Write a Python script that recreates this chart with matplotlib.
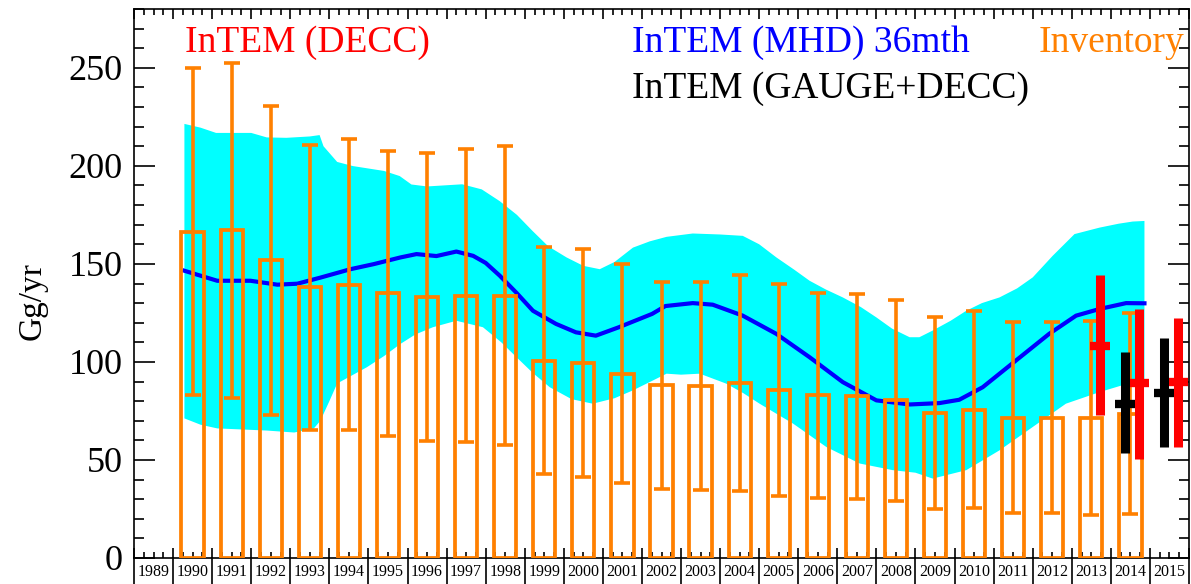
import numpy as np
import matplotlib
matplotlib.use("Agg")
import matplotlib.pyplot as plt
from matplotlib.ticker import MultipleLocator
import matplotlib.transforms as mtransforms

plt.rcParams['font.family'] = ['Liberation Serif', 'DejaVu Serif']

# inventory (one box per year) : value and +- uncertainty
inv_years = np.arange(1990, 2015)
inv_val = [166.5, 167.2, 151.9, 138.0, 139.4, 134.9, 133.3, 133.8, 133.8, 100.7,
           99.3, 94.0, 88.0, 87.6, 89.4, 85.8, 82.9, 82.4, 80.4, 74.1,
           75.6, 71.6, 71.6, 71.6, 73.6]
inv_err = [83.5, 85.5, 78.8, 72.8, 74.2, 72.8, 73.5, 74.8, 76.2, 57.8,
           58.2, 56.0, 53.0, 53.0, 55.1, 54.0, 52.2, 52.2, 51.3, 49.0,
           50.2, 48.9, 48.9, 49.5, 51.2]

# InTEM (MHD) 36 month : central line and uncertainty band
mhd_t = [1990.29, 1990.7, 1991.13, 1991.98, 1992.67, 1993.18, 1993.77, 1994.54,
         1995.14, 1995.82, 1996.23, 1996.74, 1997.25, 1997.68, 1998.0, 1998.36,
         1998.8, 1999.21, 1999.8, 2000.31, 2000.82, 2001.41, 2002.26, 2002.6,
         2003.3, 2003.81, 2004.58, 2005.44, 2006.29, 2007.14, 2008.0, 2008.85,
         2009.61, 2010.12, 2010.72, 2011.57, 2012.42, 2013.11, 2013.71, 2014.39,
         2014.86]
mhd_val = [146.5, 144, 141.4, 141.4, 139.4, 139.9, 143, 147.3,
           149.9, 153.3, 155, 154, 156.3, 154.1, 150.5, 144,
           135, 126.1, 119.4, 115.1, 113.4, 117.7, 124.5, 128.5,
           130, 129.2, 123.6, 114.3, 102.4, 89.7, 80.4, 78.3,
           79, 80.7, 87.1, 100.7, 114.3, 123.6, 127, 130,
           129.9]

up_t = [1990.29, 1990.7, 1991.1, 1992.0, 1992.4, 1992.9, 1993.5, 1993.75, 1993.85,
        1994.2, 1994.6, 1995.4, 1995.8, 1996.1, 1996.5, 1997.4, 1997.9, 1998.36,
        1998.8, 1999.2, 1999.6, 2000.07, 2000.5, 2000.92, 2001.3, 2001.77, 2002.2,
        2002.63, 2003.3, 2004.0, 2004.58, 2005.0, 2005.44, 2005.9, 2006.29, 2006.7,
        2007.14, 2007.6, 2008.0, 2008.4, 2008.85, 2009.1, 2009.44, 2009.9, 2010.3,
        2010.7, 2011.15, 2011.6, 2012.0, 2012.51, 2013.07, 2013.71, 2014.2, 2014.56,
        2014.86]
up_val = [221.4, 219.5, 216.8, 216.8, 214.5, 214.3, 215.0, 215.7, 210.0,
          202.0, 199.9, 197.4, 194.8, 190.5, 189.5, 190.6, 188, 182,
          175, 166.8, 159, 153.3, 149, 147.3, 151, 158.3, 161.5,
          163.8, 165.5, 165, 164.3, 160, 153.3, 147, 141.4, 137,
          132.9, 128, 122.7, 117, 112.6, 112.6, 116, 121, 126.1,
          130, 132.9, 137.5, 143.1, 154.1, 165.2, 168.5, 170.5, 171.6,
          171.9]

lo_t = [1990.29, 1990.7, 1991.13, 1992.4, 1993.1, 1993.6, 1993.77, 1994.0, 1994.2,
        1994.96, 1995.4, 1995.82, 1996.2, 1996.65, 1997.25, 1997.93, 1998.4, 1998.79,
        1999.2, 1999.64, 2000.2, 2000.74, 2001.3, 2001.77, 2002.63, 2003.0, 2003.48,
        2004.16, 2004.6, 2005.01, 2005.87, 2006.72, 2007.57, 2008.42, 2009.0, 2009.44,
        2010.3, 2011.15, 2012.0, 2012.85, 2013.71, 2014.56, 2014.86]
lo_val = [71.2, 68, 66.1, 65, 64, 66, 70, 80, 89,
          97.3, 103, 109.2, 114, 117.7, 121, 117.7, 110, 102.4,
          94.5, 87.1, 81, 78.7, 81.5, 85.5, 94, 93.5, 94,
          88.9, 84, 78.7, 68.5, 56.6, 48.2, 44.8, 43.5, 40.5,
          44.8, 54.9, 66.8, 78.7, 84.6, 89.7, 90.5]

# InTEM (DECC) and InTEM (GAUGE+DECC) annual estimates
decc_years = [2013, 2014, 2015]
decc_val = [108.3, 89.2, 89.7]
decc_lo = [72.7, 50.7, 56.6]
decc_hi = [144.5, 127.0, 122.4]

gauge_years = [2014, 2015]
gauge_val = [78.7, 84.3]
gauge_lo = [53.6, 56.6]
gauge_hi = [105.0, 112.0]

orange = '#ff8000'

fig = plt.figure(figsize=(11.91, 5.84), dpi=100)
ax = fig.add_axes([134/1191, 1-558/584, 1055/1191, 549/584])

# band + line
band_x = np.concatenate([up_t, lo_t[::-1]])
band_y = np.concatenate([up_val, lo_val[::-1]])
ax.fill(band_x, band_y, color='#00ffff', lw=0, zorder=1)
ax.plot(mhd_t, mhd_val, color='#0000ff', lw=3, zorder=2)

# inventory boxes
xc = inv_years + 0.5
ax.bar(xc, inv_val, width=0.57, fill=False, edgecolor=orange, lw=2.7, zorder=3)
ax.errorbar(xc, inv_val, yerr=inv_err, fmt='none', ecolor=orange,
            elinewidth=2.6, capsize=5.6, capthick=2.6, zorder=3)

# DECC (red) and GAUGE+DECC (black)
dx = np.array(decc_years) + 0.72
ax.vlines(dx, decc_lo, decc_hi, color='#ff0000', lw=6.5, zorder=4)
ax.plot(dx, decc_val, ls='none', marker='_', ms=15, mew=6, color='#ff0000', zorder=4)
gx = np.array(gauge_years) + 0.36
ax.vlines(gx, gauge_lo, gauge_hi, color='black', lw=6.5, zorder=4)
ax.plot(gx, gauge_val, ls='none', marker='_', ms=15, mew=6, color='black', zorder=4)

ax.set_xlim(1989, 2016)
ax.set_ylim(0, 280)

ax.yaxis.set_major_locator(MultipleLocator(50))
ax.yaxis.set_minor_locator(MultipleLocator(10))
ax.xaxis.set_major_locator(MultipleLocator(1))
ax.xaxis.set_minor_locator(MultipleLocator(0.25))
ax.tick_params(which='both', direction='in', top=True, right=True, width=1.2)
ax.tick_params(axis='y', which='major', length=15, labelsize=26, pad=8)
ax.tick_params(axis='y', which='minor', length=7.5)
ax.tick_params(axis='x', which='major', length=7.5, labelbottom=False)
ax.tick_params(axis='x', which='minor', length=4)
for s in ax.spines.values():
    s.set_linewidth(1.2)

fig.canvas.draw()
ax.yaxis.get_major_ticks()[0].label1.set_verticalalignment('bottom')

# year boxes under the axis
tr = mtransforms.blended_transform_factory(ax.transData, ax.transAxes)
for yr in range(1989, 2017):
    ax.plot([yr, yr], [0, -0.06], color='black', lw=1.2, transform=tr, clip_on=False)
for yr in range(1989, 2016):
    ax.text(yr + 0.5, -0.025, str(yr), transform=tr, ha='center', va='center', fontsize=11.5)

ax.text(0.048, 0.9217, 'InTEM (DECC)', color='#ff0000', fontsize=27,
        transform=ax.transAxes, va='baseline')
ax.text(0.472, 0.9217, 'InTEM (MHD) 36mth', color='#0000ff', fontsize=27,
        transform=ax.transAxes, va='baseline')
ax.text(0.996, 0.9217, 'Inventory', color=orange, fontsize=27,
        transform=ax.transAxes, va='baseline', ha='right')
ax.text(0.472, 0.838, 'InTEM (GAUGE+DECC)', color='black', fontsize=27,
        transform=ax.transAxes, va='baseline')

fig.text(32/1191, 0.485, 'Gg/yr', rotation=90, fontsize=24, ha='center', va='center')

fig.savefig('out.png', dpi=100)
